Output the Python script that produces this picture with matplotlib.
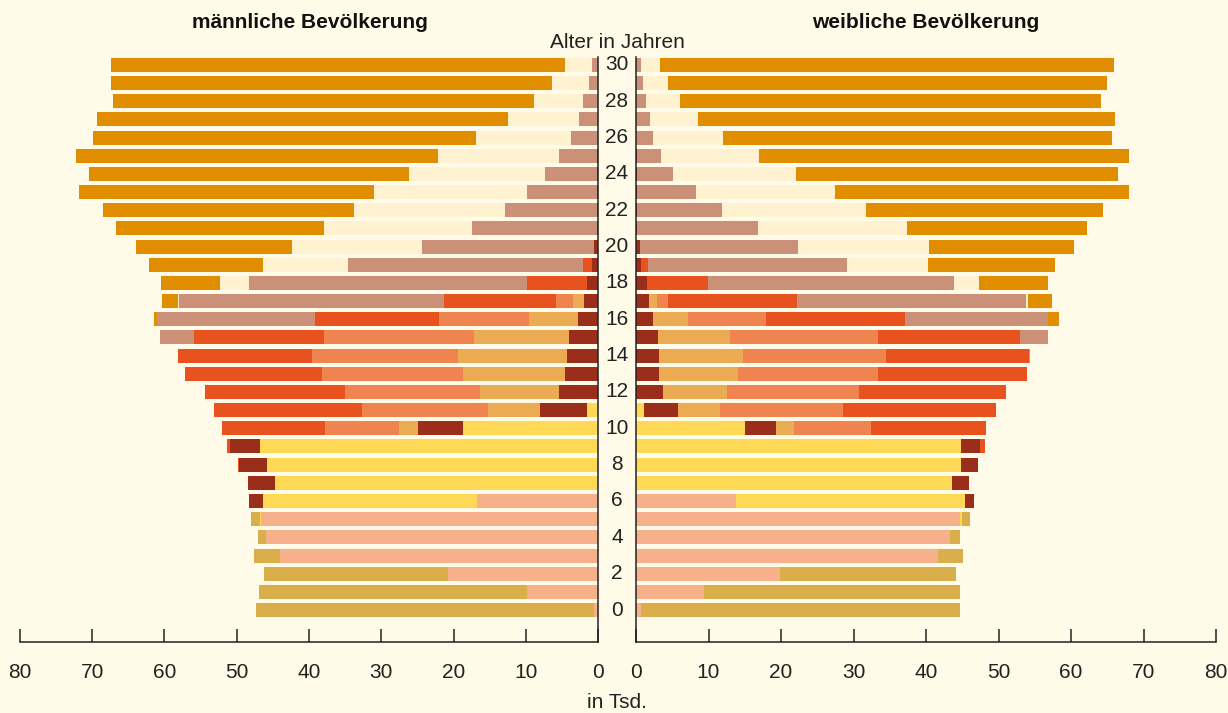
import numpy as np
import matplotlib
matplotlib.use("Agg")
import matplotlib.pyplot as plt

# Alter 0..30
alter = list(range(31))

# Werte in Tsd., je Gruppe (von der Mitte nach außen)
m_kita = [0.5, 9.8, 20.8, 44.0, 45.9, 46.6, 16.7] + [0] * 24
m_grund = [0, 0, 0, 0, 0, 0.2, 29.7, 44.7, 45.8, 46.8, 18.7, 1.5] + [0] * 19
m_dunkelrot = [0, 0, 0, 0, 0, 0, 1.9, 3.7, 3.9, 4.1, 6.2, 6.5, 5.4, 4.6, 4.3, 4.0, 2.8, 1.9, 1.5, 0.8, 0.5,
               0.2, 0.2, 0.2, 0.2, 0.2, 0, 0, 0, 0, 0]
m_ockerhell = [0] * 10 + [2.6, 7.2, 10.9, 14.1, 15.1, 13.2, 6.7, 1.6] + [0] * 13
m_lachs = [0] * 10 + [10.3, 17.5, 18.7, 19.5, 20.2, 20.7, 12.5, 2.3] + [0] * 13
m_rotorange = [0, 0, 0, 0, 0, 0, 0, 0, 0.1, 0.5, 14.2, 20.4, 19.4, 19.0, 18.5, 18.0, 17.2, 15.5, 8.3, 1.3] + [0] * 11
m_rose = [0] * 15 + [4.7, 21.8, 36.7, 38.5, 32.5, 23.9, 17.2, 12.7, 9.6, 7.1, 5.2, 3.7, 2.6, 2.1, 1.2, 0.8]
m_creme = [0] * 17 + [0.2, 4.0, 11.8, 18.0, 20.5, 20.9, 21.2, 18.9, 16.7, 13.2, 9.9, 6.8, 5.2, 3.8]
m_orange = [0] * 16 + [0.5, 2.2, 8.2, 15.7, 21.6, 28.8, 34.7, 40.8, 44.2, 50.1, 53.0, 56.8, 58.2, 61.0, 62.8]
m_gold = [46.8, 37.1, 25.4, 3.6, 1.2, 1.2] + [0] * 25

w_kita = [0.7, 9.4, 19.9, 41.7, 43.3, 44.7, 13.8] + [0] * 24
w_grund = [0, 0, 0, 0, 0, 0.3, 31.6, 43.6, 44.8, 44.8, 15.0, 1.1] + [0] * 19
w_dunkelrot = [0, 0, 0, 0, 0, 0, 1.2, 2.3, 2.4, 2.7, 4.3, 4.7, 3.7, 3.2, 3.2, 3.0, 2.3, 1.8, 1.5, 0.7, 0.5,
               0.2, 0.2, 0.2, 0.2, 0.2, 0, 0, 0, 0, 0]
w_ockerhell = [0] * 10 + [2.5, 5.8, 8.9, 10.9, 11.6, 10.0, 4.9, 1.1] + [0] * 13
w_lachs = [0] * 10 + [10.6, 17.0, 18.2, 19.3, 19.7, 20.4, 10.7, 1.5] + [0] * 13
w_rotorange = [0, 0, 0, 0, 0, 0, 0, 0, 0, 0.6, 15.9, 21.1, 20.2, 20.5, 19.7, 19.6, 19.2, 17.8, 8.4, 1.0] + [0] * 11
w_rose = [0] * 14 + [0.2, 3.8, 19.7, 31.6, 34.0, 27.4, 21.8, 16.6, 11.7, 8.1, 4.9, 3.2, 2.3, 1.9, 1.4, 0.9, 0.7]
w_creme = [0] * 17 + [0.2, 3.4, 11.2, 18.1, 20.6, 19.8, 19.1, 16.9, 13.6, 9.7, 6.7, 4.7, 3.5, 2.6]
w_orange = [0] * 16 + [1.5, 3.4, 9.5, 17.5, 20.0, 24.8, 32.7, 40.6, 44.5, 51.0, 53.6, 57.5, 58.1, 60.6, 62.6]
w_gold = [44.0, 35.3, 24.3, 3.4, 1.4, 1.1] + [0] * 25

farben = ["#F7B18A", "#FFD955", "#9B2E1B", "#EAAB52", "#EF8450", "#E8521E",
          "#CA9078", "#FFF2D0", "#E08E00", "#DBAE4C"]
maenner = [m_kita, m_grund, m_dunkelrot, m_ockerhell, m_lachs, m_rotorange, m_rose, m_creme, m_orange, m_gold]
frauen = [w_kita, w_grund, w_dunkelrot, w_ockerhell, w_lachs, w_rotorange, w_rose, w_creme, w_orange, w_gold]

bg = "#FFFBE8"
plt.rcParams['font.family'] = ['Liberation Sans', 'DejaVu Sans']

fig = plt.figure(figsize=(12.28, 7.13), dpi=100, facecolor=bg)
W, H = 1228, 713
y_unten, y_oben = 642, 56.7
ax_l = fig.add_axes([20 / W, (H - y_unten) / H, 578 / W, (y_unten - y_oben) / H])
ax_r = fig.add_axes([636 / W, (H - y_unten) / H, 580 / W, (y_unten - y_oben) / H])

for ax, daten in [(ax_l, maenner), (ax_r, frauen)]:
    ax.set_facecolor(bg)
    links = np.zeros(len(alter))
    for werte, farbe in zip(daten, farben):
        werte = np.array(werte)
        ax.barh(alter, werte, left=links, height=0.77, color=farbe, linewidth=0)
        links += werte
    ax.set_ylim(-1.76, 30.45)
    ax.set_xticks(range(0, 81, 10))
    ax.tick_params(axis='x', direction='in', length=9.5, width=1.1, pad=15,
                   labelsize=15, colors='#222222')
    ax.set_yticks([])
    for s in ['top', 'left', 'right', 'bottom']:
        ax.spines[s].set_visible(False)
    ax.spines['bottom'].set_visible(True)
    ax.spines['bottom'].set_linewidth(1.1)
    ax.spines['bottom'].set_color('#222222')

ax_l.set_xlim(80, 0)
ax_r.set_xlim(0, 80)
ax_l.spines['right'].set_visible(True)
ax_l.spines['right'].set_linewidth(1.1)
ax_l.spines['right'].set_color('#222222')
ax_r.spines['left'].set_visible(True)
ax_r.spines['left'].set_linewidth(1.1)
ax_r.spines['left'].set_color('#222222')

# Altersbeschriftung in der Mitte
for a in range(0, 31, 2):
    y_px = 610 - a * 18.17
    fig.text(617 / W, 1 - y_px / H, str(a), ha='center', va='center', fontsize=15, color='#222222')

fig.text(617 / W, 1 - 42 / H, "Alter in Jahren", ha='center', va='center', fontsize=15, color='#222222')
fig.text(310 / W, 1 - 22 / H, "männliche Bevölkerung", ha='center', va='center', fontsize=15,
         fontweight='bold', color='#111111')
fig.text(926 / W, 1 - 22 / H, "weibliche Bevölkerung", ha='center', va='center', fontsize=15,
         fontweight='bold', color='#111111')
fig.text(617 / W, 1 - 703 / H, "in Tsd.", ha='center', va='center', fontsize=15, color='#222222')

fig.savefig("out.png", dpi=100, facecolor=bg)
